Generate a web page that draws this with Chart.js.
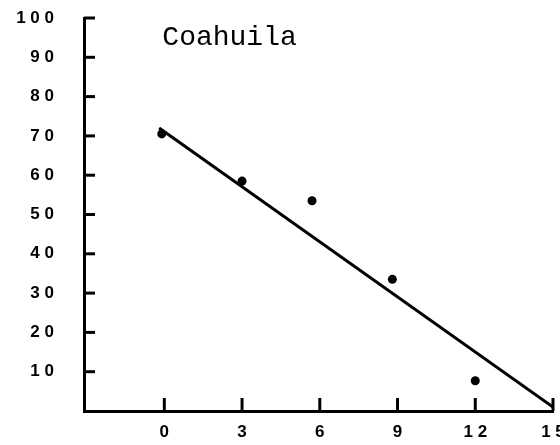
<!DOCTYPE html>
<html>
<head>
<meta charset="utf-8">
<script src="https://cdn.jsdelivr.net/npm/chart.js@4"></script>
<style>
html,body{margin:0;padding:0;background:#fff;}
#wrap{width:560px;height:445px;}
</style>
</head>
<body>
<div id="wrap"><canvas id="c" width="560" height="445"></canvas></div>
<script>
const chartTitle = "Coahuila";
const xTickValues = [0, 3, 6, 9, 12, 15];
const xTickLabels = ["0", "3", "6", "9", "1 2", "1 5"];
const yTickValues = [10, 20, 30, 40, 50, 60, 70, 80, 90, 100];
const yTickLabels = ["1 0", "2 0", "3 0", "4 0", "5 0", "6 0", "7 0", "8 0", "9 0", "1 0 0"];
const pointX = [-0.1, 3, 5.7, 8.8, 12];
const pointY = [70.5, 58.5, 53.5, 33.5, 7.7];
const lineX = [-0.2, 15];
const lineY = [72, 1];

const tickFont = {family: "'Liberation Sans'", size: 17, weight: 'bold'};

const inwardTicks = {
  id: 'inwardTicks',
  afterDraw(chart) {
    const ctx = chart.ctx, xs = chart.scales.x, ys = chart.scales.y, a = chart.chartArea;
    ctx.save();
    ctx.strokeStyle = '#000';
    ctx.lineWidth = 3;
    ctx.lineCap = 'butt';
    yTickValues.forEach(v => {
      const y = ys.getPixelForValue(v);
      ctx.beginPath(); ctx.moveTo(a.left, y); ctx.lineTo(a.left + 11, y); ctx.stroke();
    });
    xTickValues.forEach(v => {
      const x = xs.getPixelForValue(v);
      ctx.beginPath(); ctx.moveTo(x, a.bottom); ctx.lineTo(x, a.bottom - 13); ctx.stroke();
    });
    ctx.fillStyle = '#000';
    ctx.font = "28px 'Liberation Mono'";
    ctx.textBaseline = 'alphabetic';
    ctx.fillText(chartTitle, xs.getPixelForValue(0) - 2, 45);
    ctx.restore();
  }
};

const zeroPad = s => { s.paddingTop = 0; s.paddingBottom = 0; s.paddingLeft = 0; s.paddingRight = 0; };

new Chart(document.getElementById('c'), {
  type: 'scatter',
  data: {
    datasets: [
      {
        type: 'line',
        data: lineX.map((x, i) => ({x, y: lineY[i]})),
        borderColor: '#000',
        borderWidth: 3,
        pointRadius: 0,
        fill: false
      },
      {
        data: pointX.map((x, i) => ({x, y: pointY[i]})),
        backgroundColor: '#000',
        borderColor: '#000',
        pointRadius: 4.5,
        borderWidth: 0
      }
    ]
  },
  options: {
    responsive: false,
    animation: false,
    events: [],
    layout: {padding: {top: 18, right: 7, left: 0, bottom: 0}},
    plugins: {legend: {display: false}, tooltip: {enabled: false}},
    scales: {
      x: {
        type: 'linear',
        min: -3.1,
        max: 15,
        afterBuildTicks: s => { s.ticks = xTickValues.map(v => ({value: v})); },
        afterFit: s => { s.height = 34; zeroPad(s); },
        grid: {display: false, drawTicks: false},
        border: {display: true, color: '#000', width: 3},
        ticks: {
          color: '#000',
          font: tickFont,
          padding: 11,
          maxRotation: 0,
          autoSkip: false,
          callback: (v) => { const i = xTickValues.indexOf(v); return i >= 0 ? xTickLabels[i] : ''; }
        }
      },
      y: {
        type: 'linear',
        min: 0,
        max: 100,
        afterBuildTicks: s => { s.ticks = yTickValues.map(v => ({value: v})); },
        afterFit: s => { s.width = 84; zeroPad(s); },
        grid: {display: false, drawTicks: false},
        border: {display: true, color: '#000', width: 3},
        ticks: {
          color: '#000',
          font: tickFont,
          padding: 30,
          autoSkip: false,
          callback: (v) => { const i = yTickValues.indexOf(v); return i >= 0 ? yTickLabels[i] : ''; }
        }
      }
    }
  },
  plugins: [inwardTicks]
});
</script>
</body>
</html>
